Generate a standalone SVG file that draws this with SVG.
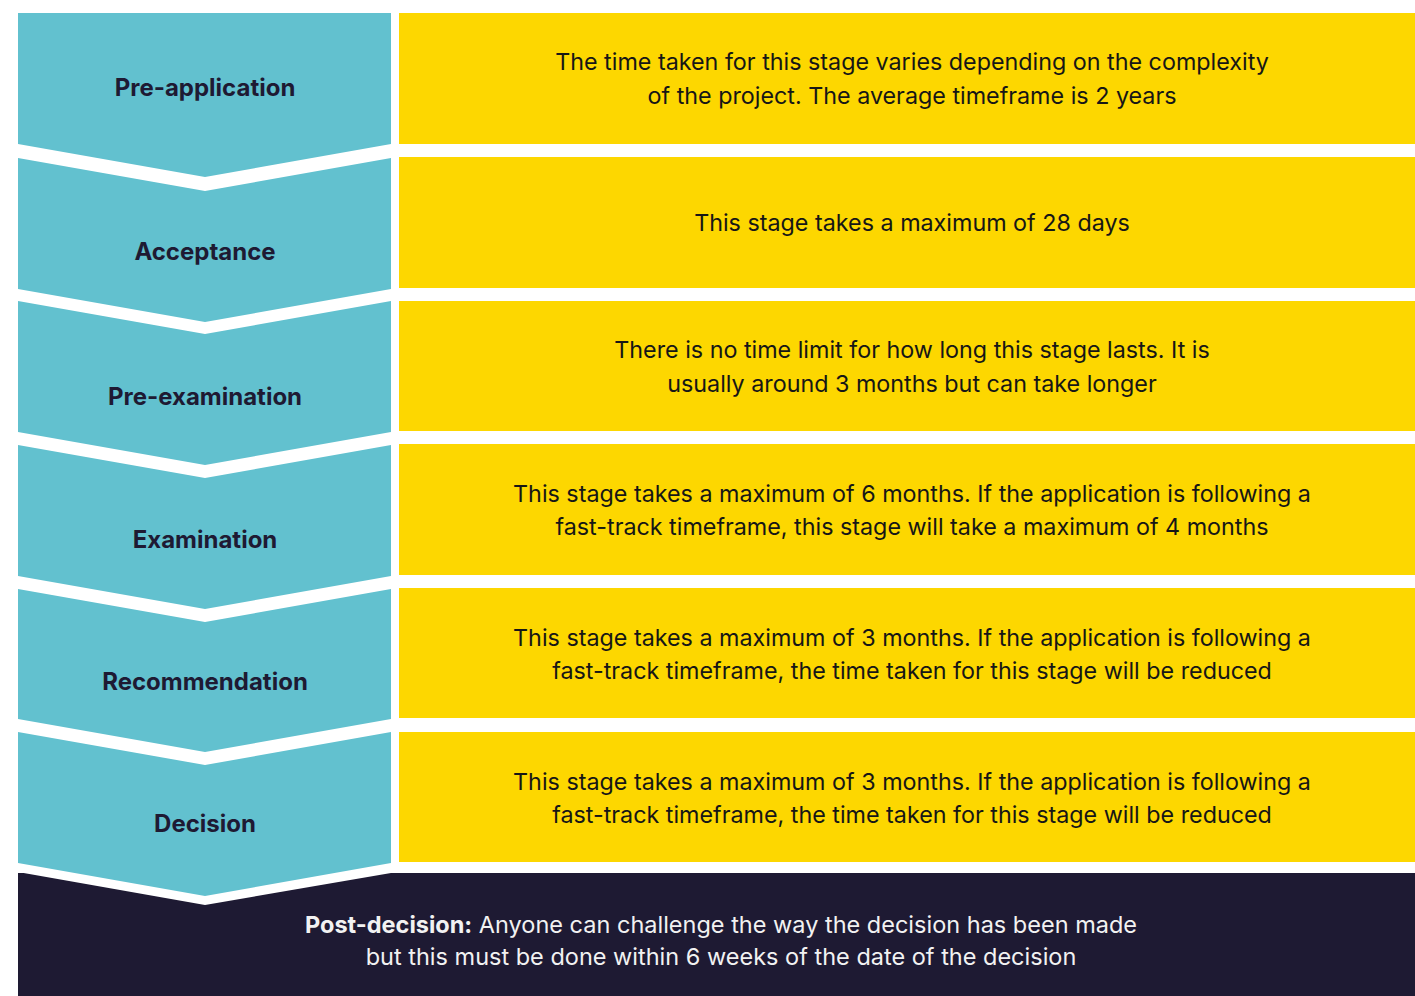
<svg xmlns="http://www.w3.org/2000/svg" width="1415" height="996" viewBox="0 0 1415 996">
  <style>
    .stage { fill: #62C1CF; }
    .info { fill: #FDD700; }
    .label { font-family: Inter, "Liberation Sans", sans-serif; font-weight: 700; font-size: 24px; fill: #1E1A33; text-anchor: middle; }
    .desc { font-family: Inter, "Liberation Sans", sans-serif; font-size: 23.3px; fill: #161616; text-anchor: middle; }
    .post { font-family: Inter, "Liberation Sans", sans-serif; font-size: 23.5px; fill: #F2F2F2; text-anchor: middle; }
  </style>
  <rect width="1415" height="996" fill="#FFFFFF"/>

  <!-- closing post-decision band -->
  <g id="post-decision">
    <rect x="18" y="873" width="1397" height="123" fill="#1E1A33"/>
    <text class="post" x="721" y="933"><tspan font-weight="700">Post-decision:</tspan> Anyone can challenge the way the decision has been made</text>
    <text class="post" x="721" y="965">but this must be done within 6 weeks of the date of the decision</text>
  </g>

  <!-- stage chevrons -->
  <g id="pre-application">
    <polygon class="stage" points="18,13 391,13 391,144 205,177 18,144"/>
    <text class="label" x="205" y="96">Pre-application</text>
  </g>
  <g id="acceptance">
    <polygon class="stage" points="18,158 205,191 391,158 391,289 205,322 18,289"/>
    <text class="label" x="205" y="260">Acceptance</text>
  </g>
  <g id="pre-examination">
    <polygon class="stage" points="18,301 205,334 391,301 391,432 205,465 18,432"/>
    <text class="label" x="205" y="405">Pre-examination</text>
  </g>
  <g id="examination">
    <polygon class="stage" points="18,445 205,478 391,445 391,576 205,609 18,576"/>
    <text class="label" x="205" y="548">Examination</text>
  </g>
  <g id="recommendation">
    <polygon class="stage" points="18,589 205,622 391,589 391,719 205,752 18,719"/>
    <text class="label" x="205" y="690">Recommendation</text>
  </g>
  <g id="decision">
    <polygon fill="#FFFFFF" points="18,860 391,860 391,873 205,905 18,872"/>
    <polygon class="stage" points="18,732 205,765 391,732 391,863 205,896 18,863"/>
    <text class="label" x="205" y="832">Decision</text>
  </g>

  <!-- timing boxes -->
  <g id="pre-application-time">
    <rect class="info" x="399" y="13" width="1016" height="131"/>
    <text class="desc" x="912" y="70">The time taken for this stage varies depending on the complexity</text>
    <text class="desc" x="912" y="104">of the project. The average timeframe is 2 years</text>
  </g>
  <g id="acceptance-time">
    <rect class="info" x="399" y="157" width="1016" height="131"/>
    <text class="desc" x="912" y="231">This stage takes a maximum of 28 days</text>
  </g>
  <g id="pre-examination-time">
    <rect class="info" x="399" y="301" width="1016" height="130"/>
    <text class="desc" x="912" y="358">There is no time limit for how long this stage lasts. It is</text>
    <text class="desc" x="912" y="392">usually around 3 months but can take longer</text>
  </g>
  <g id="examination-time">
    <rect class="info" x="399" y="444" width="1016" height="131"/>
    <text class="desc" x="912" y="502">This stage takes a maximum of 6 months. If the application is following a</text>
    <text class="desc" x="912" y="535">fast-track timeframe, this stage will take a maximum of 4 months</text>
  </g>
  <g id="recommendation-time">
    <rect class="info" x="399" y="588" width="1016" height="130"/>
    <text class="desc" x="912" y="646">This stage takes a maximum of 3 months. If the application is following a</text>
    <text class="desc" x="912" y="679">fast-track timeframe, the time taken for this stage will be reduced</text>
  </g>
  <g id="decision-time">
    <rect class="info" x="399" y="732" width="1016" height="130"/>
    <text class="desc" x="912" y="790">This stage takes a maximum of 3 months. If the application is following a</text>
    <text class="desc" x="912" y="823">fast-track timeframe, the time taken for this stage will be reduced</text>
  </g>
</svg>
